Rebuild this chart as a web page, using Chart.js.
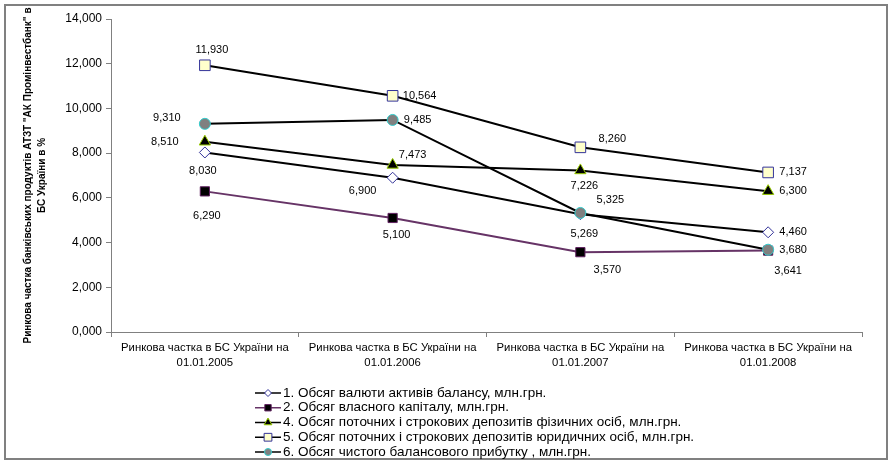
<!DOCTYPE html>
<html><head><meta charset="utf-8">
<script src="https://cdn.jsdelivr.net/npm/chart.js@4/dist/chart.umd.min.js"></script>
<style>html,body{margin:0;padding:0;background:#fff}#wrap{position:relative;width:892px;height:463px}</style>
</head><body><div id="wrap"><canvas id="c" width="892" height="463"></canvas></div>
<script>
// ---- data ----
const categories = [
  ["Ринкова частка в БС України на", "01.01.2005"],
  ["Ринкова частка в БС України на", "01.01.2006"],
  ["Ринкова частка в БС України на", "01.01.2007"],
  ["Ринкова частка в БС України на", "01.01.2008"]
];
const seriesNames = [
  "1. Обсяг валюти активів балансу, млн.грн.",
  "2. Обсяг власного капіталу, млн.грн.",
  "4. Обсяг поточних і строкових депозитів фізичних осіб, млн.грн.",
  "5. Обсяг поточних і строкових депозитів юридичних осіб, млн.грн.",
  "6. Обсяг чистого балансового прибутку , млн.грн."
];
const assets   = [8.030, 6.900, 5.269, 4.460];
const capital  = [6.290, 5.100, 3.570, 3.641];
const depPers  = [8.510, 7.473, 7.226, 6.300];
const depCorp  = [11.930, 10.564, 8.260, 7.137];
const profit   = [9.310, 9.485, 5.325, 3.680];
const yMin = 0, yMax = 14, yStep = 2;
const yTitle = ["Ринкова частка банківських продуктів АТЗТ \"АК Промінвестбанк\" в", "БС України в %"];

// ---- styles (not data) ----
const FONT = "'Liberation Sans', Arial, sans-serif";
const styles = [
  {line:'#000000', style:'rectRot',  r:5.5, fill:'#ffffff', border:'#333399', order:5},
  {line:'#663366', style:'rect',     r:6.5, fill:'#000000', border:'#602060', order:4},
  {line:'#000000', style:'triangle', r:6.5, fill:'#000000', border:'#99cc00', order:3},
  {line:'#000000', style:'rect',     r:7.5, fill:'#ffffcc', border:'#333399', order:2},
  {line:'#000000', style:'circle',   r:5.5, fill:'#808080', border:'#33cccc', order:1}
];
// label offsets (dx, dy) from each point, per series
const labelOffsets = [
  [[-2,18],[-30,13],[4,20],[25,0]],
  [[2,25],[4,17],[27,18],[20,20]],
  [[-40,0],[20,-10],[4,16],[25,0]],
  [[7,-15],[27,0],[32,-8],[25,0]],
  [[-38,-6],[25,0],[30,-13],[25,0]]
];
const seriesData = [assets, capital, depPers, depCorp, profit];

function fmt(v){ return v.toFixed(3).replace('.', ','); }

const datasets = seriesData.map((d,i)=>({
  label: seriesNames[i],
  data: d,
  borderColor: styles[i].line,
  borderWidth: 2,
  pointStyle: styles[i].style,
  pointRadius: styles[i].r,
  pointHoverRadius: styles[i].r,
  pointBackgroundColor: styles[i].fill,
  pointBorderColor: styles[i].border,
  pointBorderWidth: 1,
  tension: 0,
  fill: false,
  order: styles[i].order
}));

const framePlugin = {
  id: 'frame',
  beforeDraw(chart){
    const ctx = chart.ctx;
    ctx.save();
    ctx.fillStyle = '#fff';
    ctx.fillRect(0,0,chart.width,chart.height);
    ctx.strokeStyle = '#808080';
    ctx.lineWidth = 2;
    ctx.strokeRect(5, 5, 882, 454);
    ctx.restore();
  }
};

const labelPlugin = {
  id: 'vlabels',
  afterDatasetsDraw(chart){
    const ctx = chart.ctx;
    ctx.save();
    ctx.font = "11px " + FONT;
    ctx.fillStyle = '#000';
    ctx.textAlign = 'center';
    ctx.textBaseline = 'middle';
    chart.data.datasets.forEach((ds, i)=>{
      const meta = chart.getDatasetMeta(i);
      meta.data.forEach((pt, j)=>{
        const off = labelOffsets[i][j];
        ctx.fillText(fmt(ds.data[j]), pt.x + off[0], pt.y + off[1]);
      });
    });
    ctx.restore();
  }
};

const legendPlugin = {
  id: 'mylegend',
  afterDraw(chart){
    const ctx = chart.ctx;
    const x0 = 255, x1 = 281, tx = 283, y0 = 393, dy = 14.75;
    ctx.save();
    ctx.font = "13.5px " + FONT;
    ctx.textAlign = 'left';
    ctx.textBaseline = 'middle';
    chart.data.datasets.forEach((ds, i)=>{
      const y = y0 + i*dy;
      ctx.strokeStyle = ds.borderColor;
      ctx.lineWidth = 1.5;
      ctx.beginPath(); ctx.moveTo(x0, y); ctx.lineTo(x1, y); ctx.stroke();
      ctx.fillStyle = ds.pointBackgroundColor;
      ctx.strokeStyle = ds.pointBorderColor;
      ctx.lineWidth = 1;
      Chart.helpers.drawPoint(ctx, {pointStyle: ds.pointStyle, rotation: 0, borderWidth: 1, radius: Math.max(3.5, ds.pointRadius - 2)}, (x0+x1)/2, y);
      ctx.fillStyle = '#000';
      ctx.fillText(ds.label, tx, y);
    });
    ctx.restore();
  }
};

new Chart(document.getElementById('c'), {
  type: 'line',
  data: { labels: categories, datasets },
  plugins: [framePlugin, labelPlugin, legendPlugin],
  options: {
    responsive: false,
    animation: false,
    events: [],
    layout: { padding: { top: 19, right: 30, left: 0, bottom: 0 } },
    plugins: { legend: { display: false }, tooltip: { enabled: false } },
    scales: {
      x: {
        type: 'category',
        offset: true,
        grid: { display: true, drawOnChartArea: false, drawTicks: true, tickLength: 5, offset: true, color: '#808080' },
        border: { display: true, color: '#808080', width: 1 },
        ticks: { color: '#000', font: { family: FONT, size: 11.3, lineHeight: 1.33 }, padding: 3, maxRotation: 0, autoSkip: false },
        afterFit(s){ s.height = 131; }
      },
      y: {
        min: yMin, max: yMax,
        ticks: { stepSize: yStep, color: '#000', font: { family: FONT, size: 12 }, padding: 4, callback: v => fmt(v) },
        grid: { display: true, drawOnChartArea: false, drawTicks: true, tickLength: 5, color: '#808080' },
        border: { display: true, color: '#808080', width: 1 },
        title: { display: true, text: yTitle, color: '#000', font: { family: FONT, size: 10, weight: 'bold', lineHeight: 1.4 }, padding: { top: 21, bottom: 0 } },
        afterFit(s){ s.width = 111; }
      }
    }
  }
});
</script>
</body></html>
